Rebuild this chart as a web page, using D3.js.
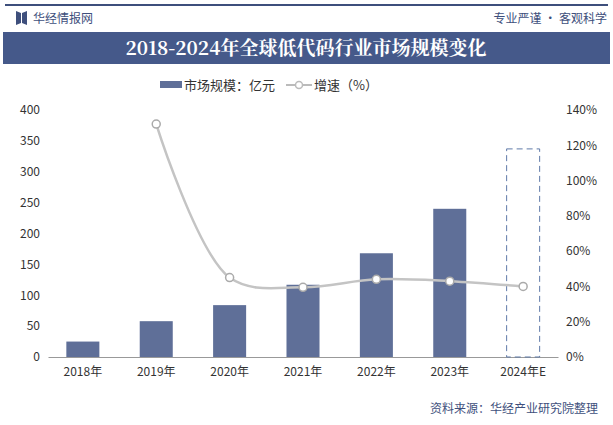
<!DOCTYPE html>
<html><head><meta charset="utf-8">
<script src="https://cdn.jsdelivr.net/npm/d3@7"></script>
<style>body{margin:0;background:#fff}</style>
</head><body>
<svg id="chart" width="613" height="425"></svg>
<script>
var years = ["2018年","2019年","2020年","2021年","2022年","2023年","2024年E"];
var marketSize = [25, 58, 84, 117, 168, 240, 337];
var growth = [null, 132, 45, 39.5, 44, 43, 40];
var leftTicks = [0,50,100,150,200,250,300,350,400];
var rightTicks = [0,20,40,60,80,100,120,140];

var svg = d3.select("#chart");
var font = "'Noto Sans CJK SC', 'Noto Sans', sans-serif";

// header
svg.append("rect").attr("x",5).attr("y",4).attr("width",603).attr("height",2).attr("fill","#3e4f7c");
svg.append("path").attr("d","M16,11 L21,13 L21,23 L16,25 Z M22,13 L27,11 L27,25 L22,23 Z").attr("fill","#3e4f7c");
svg.append("text").text("华经情报网").attr("x",33).attr("y",23).attr("font-size",12).attr("fill","#3e4f7c").style("font-family",font);
svg.append("text").text("专业严谨 • 客观科学").attr("x",607).attr("y",23).attr("text-anchor","end").attr("font-size",12).attr("fill","#3e4f7c").style("font-family",font);
svg.append("rect").attr("x",3).attr("y",32).attr("width",607).attr("height",32).attr("fill","#45598a");
svg.append("text").text("2018-2024年全球低代码行业市场规模变化").attr("x",306).attr("y",55).attr("text-anchor","middle")
  .attr("font-size",19).attr("font-weight","bold").attr("fill","#fff").style("font-family","'Noto Serif CJK SC', 'DejaVu Serif', serif");

// legend
var lg = svg.append("g");
lg.append("rect").attr("x",160).attr("y",81).attr("width",22).attr("height",7).attr("fill","#5f6f98");
lg.append("text").text("市场规模：亿元").attr("x",184).attr("y",90).attr("font-size",13).attr("fill","#333").style("font-family",font);
lg.append("line").attr("x1",286).attr("x2",312).attr("y1",85).attr("y2",85).attr("stroke","#bbb").attr("stroke-width",2);
lg.append("circle").attr("cx",299).attr("cy",85).attr("r",3.5).attr("fill","#fff").attr("stroke","#bbb").attr("stroke-width",1.5);
lg.append("text").text("增速（%）").attr("x",314).attr("y",90).attr("font-size",13).attr("fill","#333").style("font-family",font);

// scales
var x = d3.scaleBand().domain(years).range([48,558]).paddingInner(0.55).paddingOuter(0.25);
var yL = d3.scaleLinear().domain([0,400]).range([357,110]);
var yR = d3.scaleLinear().domain([0,140]).range([357,110]);

var axL = svg.append("g").attr("transform","translate(48,0)")
  .call(d3.axisLeft(yL).tickValues(leftTicks).tickSize(0).tickPadding(8));
var axR = svg.append("g").attr("transform","translate(558,0)")
  .call(d3.axisRight(yR).tickValues(rightTicks).tickSize(0).tickPadding(8).tickFormat(function(d){return d+"%";}));
var axB = svg.append("g").attr("transform","translate(0,357)")
  .call(d3.axisBottom(x).tickSize(0).tickPadding(10));
[axL,axR].forEach(function(a){a.select(".domain").remove();});
axB.select(".domain").attr("stroke","#999");
svg.selectAll(".tick text").attr("font-size",12).attr("fill","#333").style("font-family",font);

// bars
svg.selectAll(".bar").data(marketSize).enter().append("rect")
  .attr("x",function(d,i){return x(years[i]);})
  .attr("y",function(d){return yL(d);})
  .attr("width",x.bandwidth())
  .attr("height",function(d){return 357-yL(d);})
  .attr("fill",function(d,i){return i==years.length-1?"none":"#5f6f98";})
  .attr("stroke",function(d,i){return i==years.length-1?"#5f7aa8":"none";})
  .attr("stroke-dasharray","6,4");

// growth line
var pts = growth.map(function(g,i){return {y:g,x:years[i]};}).filter(function(d){return d.y!==null;});
var line = d3.line().x(function(d){return x(d.x)+x.bandwidth()/2;}).y(function(d){return yR(d.y);}).curve(d3.curveCatmullRom.alpha(0.5));
svg.append("path").attr("d",line(pts)).attr("fill","none").attr("stroke","#c4c4c4").attr("stroke-width",2.5);
svg.selectAll(".pt").data(pts).enter().append("circle")
  .attr("cx",function(d){return x(d.x)+x.bandwidth()/2;}).attr("cy",function(d){return yR(d.y);})
  .attr("r",4).attr("fill","#fff").attr("stroke","#aaa").attr("stroke-width",1.5);

// source
svg.append("text").text("资料来源：华经产业研究院整理").attr("x",598).attr("y",413).attr("text-anchor","end")
  .attr("font-size",12).attr("fill","#3e4f7c").style("font-family",font);
</script>
</body></html>
